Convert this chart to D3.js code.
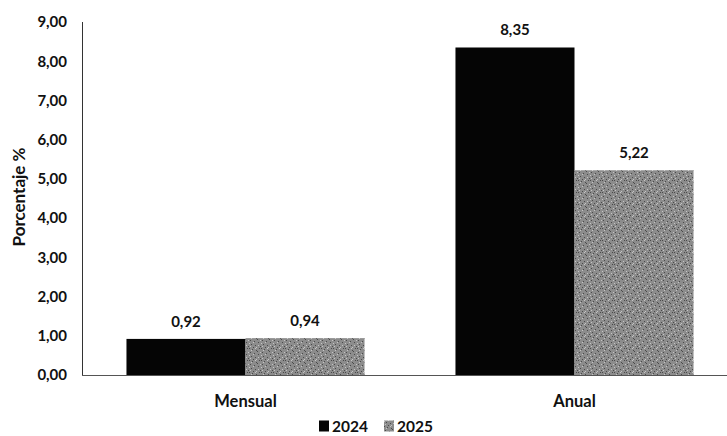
<!DOCTYPE html>
<html><head><meta charset="utf-8">
<script src="https://cdn.jsdelivr.net/npm/d3@7"></script>
<style>body{margin:0;background:#fff}svg{display:block}text{font-family:Lato,"Open Sans",sans-serif;font-weight:700;fill:#111}</style>
</head><body><div id="c"></div>
<script>
const categories = ["Mensual", "Anual"];
const seriesNames = ["2024", "2025"];
const values2024 = [0.92, 8.35];
const values2025 = [0.94, 5.22];
const yTicks = [0,1,2,3,4,5,6,7,8,9];
const colors = ["#050505", "#8c8c8c"];

const W = 727, H = 436;
const svg = d3.select("#c").append("svg").attr("width", W).attr("height", H);

const x0 = d3.scaleBand().domain(categories).range([81, 739]).paddingInner(0).paddingOuter(0);
const x1 = d3.scaleBand().domain(seriesNames).range([0, x0.bandwidth()]).paddingInner(0).paddingOuter(0.382);
const y = d3.scaleLinear().domain([0, 9]).range([375, 22]);
const fmt = v => d3.format(".2f")(v).replace(".", ",");
const FS = 15;

// noise pattern for 2025
const defs = svg.append("defs");
const pat = defs.append("pattern").attr("id","noise").attr("patternUnits","userSpaceOnUse").attr("width",12).attr("height",12);
pat.append("rect").attr("width",12).attr("height",12).attr("fill",colors[1]);
const noiseCells = [[0,0],[3,1],[7,2],[10,0],[1,4],[5,5],[9,6],[2,8],[6,9],[11,10],[4,11],[8,3]];
pat.selectAll("rect.n").data(noiseCells).join("rect").attr("class","n")
  .attr("x",d=>d[0]).attr("y",d=>d[1]).attr("width",1).attr("height",1).attr("fill","#4a4a4a");
const lightCells = [[2,2],[6,0],[9,9],[0,7],[4,6],[11,4],[7,11],[1,10]];
pat.selectAll("rect.l").data(lightCells).join("rect").attr("class","l")
  .attr("x",d=>d[0]).attr("y",d=>d[1]).attr("width",1).attr("height",1).attr("fill","#c4c4c4");

const data = categories.map((c,i)=>({cat:c, vals:[{s:"2024",v:values2024[i]},{s:"2025",v:values2025[i]}]}));

const g = svg.append("g");
const grp = g.selectAll("g.grp").data(data).join("g").attr("transform", d=>`translate(${x0(d.cat)},0)`);
grp.selectAll("rect").data(d=>d.vals).join("rect")
  .attr("x", d=>x1(d.s)).attr("width", x1.bandwidth())
  .attr("y", d=>y(d.v)).attr("height", d=>y(0)-y(d.v))
  .attr("fill", d=> d.s==="2024" ? colors[0] : "url(#noise)");
grp.selectAll("text").data(d=>d.vals).join("text")
  .attr("x", d=>x1(d.s)+x1.bandwidth()/2).attr("y", d=>y(d.v)-12)
  .attr("text-anchor","middle").attr("font-size",FS).text(d=>fmt(d.v));

// y axis
const yAxis = d3.axisLeft(y).tickValues(yTicks).tickFormat(fmt).tickSize(0).tickPadding(15);
const ya = svg.append("g").attr("transform","translate(82,0)").call(yAxis);
ya.select(".domain").attr("stroke","#333").attr("stroke-width",1).attr("d","M0.5,22V375.5");
ya.selectAll("text").attr("font-size",FS).attr("font-family","Lato,sans-serif").attr("font-weight",700).attr("fill","#111");

// x axis
const xa = svg.append("g").attr("transform","translate(0,375)").call(d3.axisBottom(x0).tickSize(0).tickPadding(20));
xa.select(".domain").attr("stroke","#555").attr("d","M82,0.5H727");
xa.selectAll("text").attr("font-size",16.5).attr("font-family","Lato,sans-serif").attr("font-weight",700).attr("fill","#111");

// y title
svg.append("text").attr("transform","translate(25,197) rotate(-90)").attr("text-anchor","middle")
  .attr("font-size",17).text("Porcentaje %");

// legend
const leg = svg.append("g").attr("transform","translate(319,426)");
const li = leg.selectAll("g").data(seriesNames).join("g").attr("transform",(d,i)=>`translate(${i*65},0)`);
li.append("rect").attr("x",0).attr("y",-5.5).attr("width",10).attr("height",11).attr("fill",(d,i)=> i===0?colors[0]:"url(#noise)");
li.append("text").attr("x",13).attr("y",5.5).attr("font-size",15.5).text(d=>d);
</script></body></html>
